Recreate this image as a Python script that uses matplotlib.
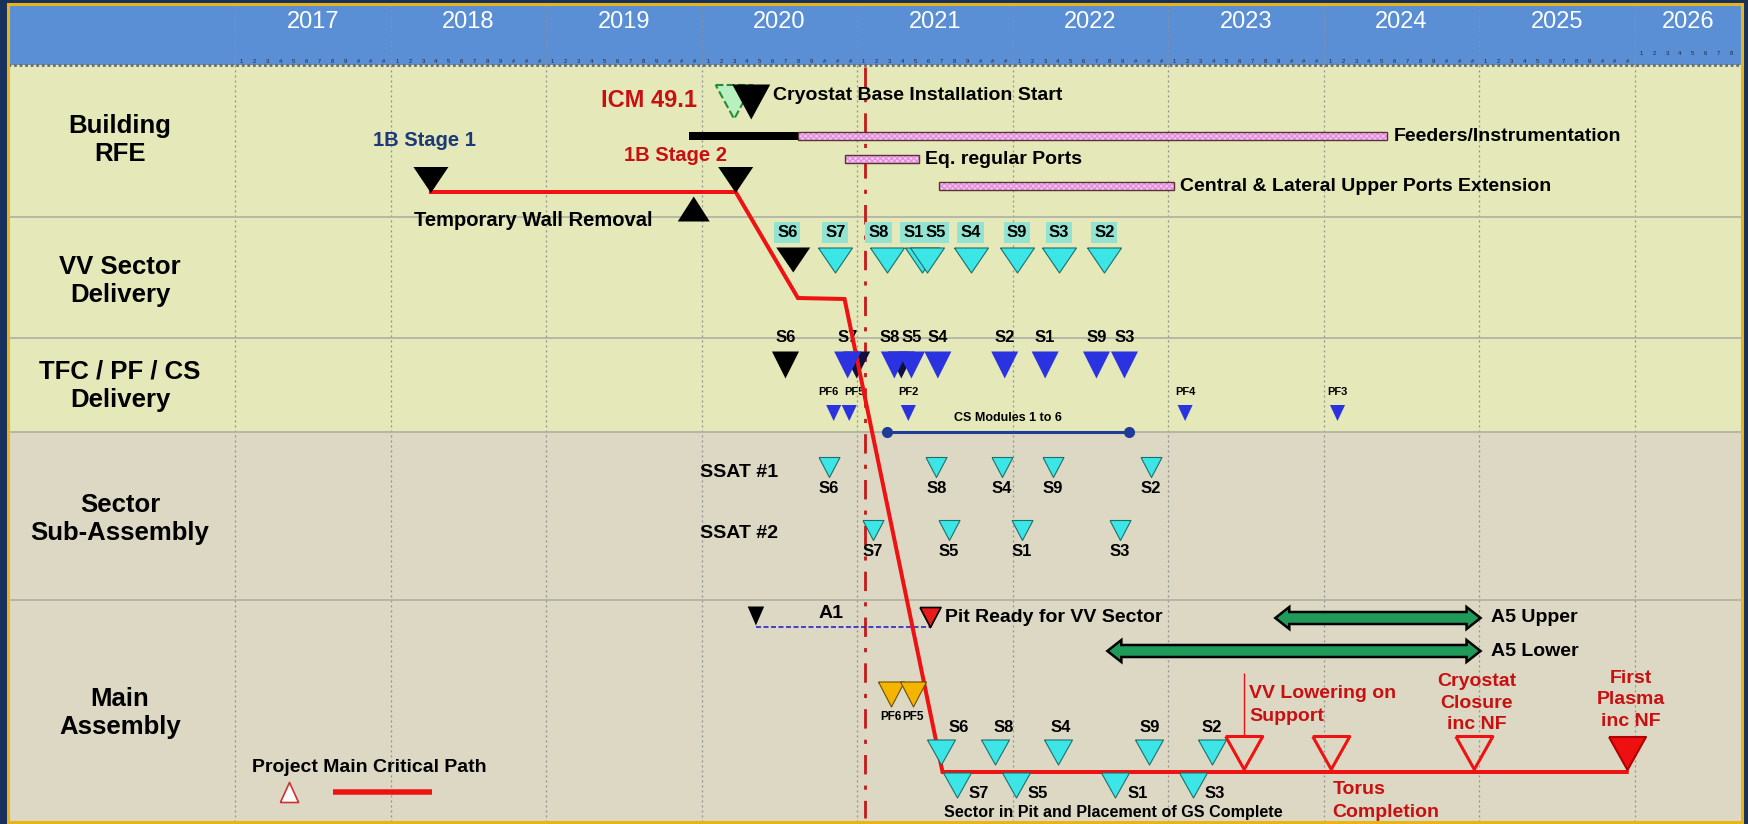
"""ITER-style assembly schedule chart (milestones per work stream)."""
import matplotlib.pyplot as plt
import matplotlib.patches as mpatches
import numpy as np

plt.rcParams['font.family'] = ['Liberation Sans', 'DejaVu Sans']
plt.rcParams['font.weight'] = 'bold'

# ---------------- data (dates as decimal years) ----------------
years = list(range(2017, 2027))
months = ['1', '2', '3', '4', '5', '6', '7', '8', '9', '#', '#', '#']
row_names = ["Building\nRFE", "VV Sector\nDelivery", "TFC / PF / CS\nDelivery",
             "Sector\nSub-Assembly", "Main\nAssembly"]
today = 2021.05

# Building / RFE
stage_names = ["1B Stage 1", "1B Stage 2"]
stage_dates = [2018.26, 2020.22]
wall_removal = 2019.95
cryostat_icm = 2020.21
cryostat_start = 2020.32
black_bar = (2019.92, 2020.62)
pink_names = ["Feeders/Instrumentation", "Eq. regular Ports",
              "Central & Lateral Upper Ports Extension"]
pink_start = [2020.62, 2020.92, 2021.53]
pink_end = [2024.41, 2021.40, 2023.04]

# VV sector delivery
vv_names = ["S6", "S7", "S8", "S1", "S5", "S4", "S9", "S3", "S2"]
vv_dates = [2020.59, 2020.86, 2021.19, 2021.42, 2021.45, 2021.73, 2022.03, 2022.30, 2022.59]

# TFC / PF / CS delivery
tfc_names = ["S6", "S7", "S8", "S5", "S4", "S2", "S1", "S9", "S3"]
tfc_dates = [2020.54, 2020.94, 2021.24, 2021.35, 2021.52, 2021.95, 2022.21, 2022.54, 2022.72]
pf_names = ["PF6", "PF5", "PF2", "PF4", "PF3"]
pf_dates = [2020.85, 2020.95, 2021.33, 2023.11, 2024.09]
cs_span = (2021.19, 2022.75)

# Sector sub-assembly
ssat1_names = ["S6", "S8", "S4", "S9", "S2"]
ssat1_dates = [2020.82, 2021.51, 2021.93, 2022.26, 2022.89]
ssat2_names = ["S7", "S5", "S1", "S3"]
ssat2_dates = [2021.10, 2021.59, 2022.06, 2022.69]

# Main assembly
a1_date = 2020.35
pit_ready = 2021.47
a5_names = ["A5 Upper", "A5 Lower"]
a5_start = [2023.69, 2022.61]
a5_end = [2025.01, 2025.01]
pf_main_names = ["PF6", "PF5"]
pf_main_dates = [2021.22, 2021.36]
pit_up_names = ["S6", "S8", "S4", "S9", "S2"]
pit_up_dates = [2021.54, 2021.89, 2022.29, 2022.88, 2023.28]
pit_low_names = ["S7", "S5", "S1", "S3"]
pit_low_dates = [2021.64, 2022.02, 2022.66, 2023.16]
key_names = ["VV Lowering on\nSupport", "Torus\nCompletion",
             "Cryostat\nClosure\ninc NF", "First\nPlasma\ninc NF"]
key_dates = [2023.49, 2024.05, 2024.97, 2025.95]

# critical path: milestone dates
crit_dates = [2018.26, 2020.22, 2020.62, 2020.92, 2021.55, 2025.95]

# ---------------- layout ----------------
W, H = 1748, 824
PPY = 155.5                     # pixels per year
X0 = 2017 - 235 / PPY           # year at left image edge
PT = 72 / 100                   # points per pixel


def xpx(p):
    return X0 + p / PPY


def dx(p):
    return p / PPY


row_bounds = [65, 217, 338, 432, 600, 821]
row_label_y = [140, 281, 386, 519, 713]
crit_y = [192, 192, 298, 299, 772, 772]

NAVY = '#17315c'
GOLD = '#e8b41a'
HEAD = '#5a8fd6'
BG_UP = '#e5e8b9'
BG_LOW = '#ddd8c3'
CYAN = '#3ce6e6'
BLUE = '#2b33e0'
RED = '#ee1212'
DRED = '#c81010'

fig = plt.figure(figsize=(W / 100, H / 100), dpi=100, facecolor=NAVY)
ax = fig.add_axes([0, 0, 1, 1])
ax.set_xlim(X0, X0 + W / PPY)
ax.set_ylim(H, 0)
ax.axis('off')

# backgrounds
ax.add_patch(mpatches.Rectangle((xpx(8), 5), dx(1734), 60, facecolor=HEAD, edgecolor='none', zorder=0))
for i in range(5):
    ax.add_patch(mpatches.Rectangle((xpx(8), row_bounds[i]), dx(1734), row_bounds[i + 1] - row_bounds[i],
                                    facecolor=BG_UP if i < 3 else BG_LOW, edgecolor='none', zorder=0))
ax.add_patch(mpatches.Rectangle((xpx(7.5), 3.5), dx(1735), 818, facecolor='none',
                                edgecolor=GOLD, lw=2.2, zorder=10))

# grid
ax.vlines(years, 5, 821, colors='#8e8e8e', linestyles=(0, (1.5, 2.5)), lw=0.9, zorder=1)
ax.hlines(65, xpx(8), xpx(1742), colors='#6c6c6c', linestyles=(0, (1, 1)), lw=2, zorder=1)
ax.hlines(row_bounds[1:5], xpx(8), xpx(1742), colors='#b3b3a3', lw=1.3, zorder=1)

# header
right_edge = xpx(1736)
for y in years:
    c = y + 0.5 if y < 2026 else (y + xpx(1741)) / 2
    ax.text(c, 22, str(y), color='white', fontsize=17, fontweight='normal', ha='center', va='center')
    my = 61 if y < 2026 else 53
    for m, lab in enumerate(months):
        mx = y + (m + 0.5) / 12
        if mx < right_edge:
            ax.text(mx, my, lab, fontsize=4.2, fontweight='normal',
                    color='#24243a', ha='center', va='center')

# row labels
for name, y in zip(row_names, row_label_y):
    ax.text(xpx(120), y, name, fontsize=18.5, ha='center', va='center', linespacing=1.25)


def tri(xs, y, w, h, face, edge='none', lw=0.8, up=False, z=4, ls='-'):
    a = h / w
    if up:
        verts = [(-1, -a), (1, -a), (0, a), (-1, -a)]
    else:
        verts = [(-1, a), (1, a), (0, -a), (-1, a)]
    xs = np.atleast_1d(xs)
    ax.scatter(xs, np.full(len(xs), y), marker=verts, s=(w * PT) ** 2, facecolors=face,
               edgecolors=edge, linewidths=lw, linestyles=ls, zorder=z)


# ---------------- Building / RFE ----------------
ax.barh(136, black_bar[1] - black_bar[0], left=black_bar[0], height=8, color='black', zorder=3)
pink_y = [136, 159, 186]
for name, s, e, y in zip(pink_names, pink_start, pink_end, pink_y):
    ax.barh(y, e - s, left=s, height=8, color='#f5c8f1', edgecolor='#e48fdc', hatch='xxxxxx',
            lw=0, zorder=3)
    ax.barh(y, e - s, left=s, height=8, fill=False, edgecolor='#5a3434', lw=1, zorder=3)
    ax.text(e + dx(6), y, name, fontsize=14, ha='left', va='center')

tri(cryostat_icm, 102, 37, 34, '#b8f0c0', edge='#2a8a3a', lw=1.5, ls='--', z=4)
tri(cryostat_start, 102, 38, 35, 'black', z=5)
ax.text(cryostat_start + dx(22), 95, "Cryostat Base Installation Start", fontsize=14, ha='left', va='center')
ax.text(cryostat_icm - dx(37), 100, "ICM 49.1", fontsize=17, color=DRED, ha='right', va='center')

tri(stage_dates, 180, 35, 26, 'black', z=5)
ax.text(stage_dates[0] - dx(6), 140, stage_names[0], fontsize=14.5, color='#1c3a78', ha='center', va='center')
ax.text(stage_dates[1] - dx(60), 155, stage_names[1], fontsize=14.5, color=DRED, ha='center', va='center')
tri(wall_removal, 209, 32, 25, 'black', up=True, z=5)
ax.text(wall_removal - dx(41), 220, "Temporary Wall Removal", fontsize=14.5, ha='right', va='center')

# ---------------- VV sector delivery ----------------
vv_nudge = {"S6": -6, "S8": -8, "S1": -9, "S5": 9}
tri(vv_dates[0], 260, 34, 25, 'black', z=4)
tri(vv_dates[1:], 260, 34, 25, CYAN, edge='#1d6f6a', lw=0.8, z=4)
for n, d in zip(vv_names, vv_dates):
    ax.text(d + dx(vv_nudge.get(n, 0)), 232, n, fontsize=12, ha='center', va='center',
            bbox=dict(boxstyle='square,pad=0.18', facecolor='#92e3d2', edgecolor='none'))

# ---------------- TFC / PF / CS ----------------
tri(tfc_dates[0], 365, 27, 27, 'black', z=4)
tri([tfc_dates[1] + dx(9), tfc_dates[2] + dx(7)], 365, 27, 27, '#101040', z=3)
tri(tfc_dates[1:], 365, 27, 27, BLUE, z=4)
for n, d in zip(tfc_names, tfc_dates):
    ax.text(d + dx(-5 if n == "S8" else 0), 337, n, fontsize=12, ha='center', va='center')
tri(pf_dates, 413, 16, 17, BLUE, z=4)
pf_nudge = {"PF6": -5, "PF5": 5}
for n, d in zip(pf_names, pf_dates):
    ax.text(d + dx(pf_nudge.get(n, 0)), 392, n, fontsize=8, ha='center', va='center')
ax.plot(cs_span, [432, 432], color='#1f3c96', lw=2.2, marker='o', ms=7, zorder=4)
ax.text(np.mean(cs_span), 418, "CS Modules 1 to 6", fontsize=9, ha='center', va='center')

# ---------------- Sector sub-assembly ----------------
ax.text(xpx(778), 472, "SSAT #1", fontsize=14, ha='right', va='center')
ax.text(xpx(778), 533, "SSAT #2", fontsize=14, ha='right', va='center')
for names, dates, y in [(ssat1_names, ssat1_dates, 467), (ssat2_names, ssat2_dates, 530)]:
    tri(dates, y, 21, 20, CYAN, edge='#1d6f6a', lw=0.8, z=4)
    for n, d in zip(names, dates):
        ax.text(d, y + 21, n, fontsize=12, ha='center', va='center')

# ---------------- Main assembly ----------------
tri(a1_date, 616, 19, 22, 'black', z=5)
ax.plot([a1_date, pit_ready], [627, 627], color='#2828c8', lw=1.2, ls=(0, (3, 1.5)), zorder=3)
ax.text(a1_date + dx(75), 614, "A1", fontsize=14, ha='center', va='center')
tri(pit_ready, 617, 21, 20, '#e81a1a', edge='black', lw=1.2, z=5)
ax.text(pit_ready + dx(15), 618, "Pit Ready for VV Sector", fontsize=14, ha='left', va='center')

hl, hh, bh = dx(14), 11, 6
for name, s, e, y in zip(a5_names, a5_start, a5_end, [618, 651]):
    verts = [(s, y), (s + hl, y - hh), (s + hl, y - bh), (e - hl, y - bh), (e - hl, y - hh), (e, y),
             (e - hl, y + hh), (e - hl, y + bh), (s + hl, y + bh), (s + hl, y + hh)]
    ax.add_patch(mpatches.Polygon(verts, closed=True, facecolor='#1f9a58', edgecolor='black',
                                  lw=1.8, joinstyle='miter', zorder=4))
    ax.text(e + dx(10), y, name, fontsize=14, ha='left', va='center')

tri(pf_main_dates, 694, 26, 25, '#f4b400', edge='#6a5000', lw=0.8, z=4)
for n, d in zip(pf_main_names, pf_main_dates):
    ax.text(d, 717, n, fontsize=8.5, ha='center', va='center')

up_nudge = {"S6": 18, "S8": 8, "S4": 3}
tri(pit_up_dates, 752, 28, 25, CYAN, edge='#1d6f6a', lw=0.8, z=4)
for n, d in zip(pit_up_names, pit_up_dates):
    ax.text(d + dx(up_nudge.get(n, 0)), 728, n, fontsize=12, ha='center', va='center')
tri(pit_low_dates, 785, 28, 25, CYAN, edge='#1d6f6a', lw=0.8, z=4)
for n, d in zip(pit_low_names, pit_low_dates):
    ax.text(d + dx(12), 794, n, fontsize=12, ha='left', va='center')
ax.text(xpx(1113), 812, "Sector in Pit and Placement of GS Complete", fontsize=11.6,
        ha='center', va='center')

# critical path
ax.plot(crit_dates, crit_y, color=RED, lw=4 * PT, solid_joinstyle='miter', zorder=3)
ax.vlines(today, 67, 818, colors='#c41a1a', linestyles=(0, (7, 4, 1.5, 4)), lw=2, zorder=2)

# key milestones
tri(key_dates[:3], 753, 37, 33, 'none', edge=RED, lw=2.2, z=5)
tri(key_dates[3], 753, 37, 33, '#ee1010', edge='#b00000', lw=1.5, z=5)
ax.vlines(key_dates[0], 673, 737, colors=RED, lw=1, zorder=4)
ax.text(key_dates[0] + dx(5), 705, key_names[0], fontsize=14, color=DRED, ha='left', va='center',
        linespacing=1.4)
ax.text(key_dates[1] + dx(1), 801, key_names[1], fontsize=14, color=DRED, ha='left', va='center',
        linespacing=1.45)
ax.text(key_dates[2] + dx(2), 703, key_names[2], fontsize=14, color=DRED, ha='center', va='center',
        linespacing=1.32)
ax.text(key_dates[3] + dx(4), 700, key_names[3], fontsize=14, color=DRED, ha='center', va='center',
        linespacing=1.36)

# legend
ax.text(xpx(369), 767, "Project Main Critical Path", fontsize=14, ha='center', va='center')
tri(xpx(289), 792, 20, 22, 'white', edge='#d03030', lw=1.2, up=True, z=5)
ax.plot([xpx(333), xpx(432)], [792, 792], color=RED, lw=5.5 * PT, solid_capstyle='butt', zorder=4)

plt.savefig("out.png", dpi=100, facecolor=NAVY)
